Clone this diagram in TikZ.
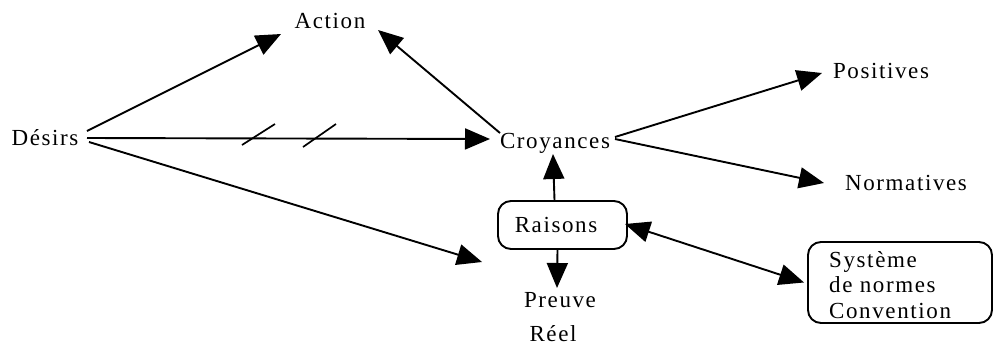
\documentclass[tikz,border=0pt]{standalone}
\usepackage{fontspec}
\setmainfont{Liberation Serif}[LetterSpace=7]
\usetikzlibrary{arrows.meta}
\begin{document}
\begin{tikzpicture}[x=1pt,y=-1pt,
  lbl/.style={inner sep=0pt,font=\fontsize{23}{25}\selectfont},
  rbox/.style={draw,line width=1.9pt,rounded corners=13pt,inner sep=0pt},
  arr/.style={line width=1.9pt,-{Triangle[length=25pt,width=21pt]}},
  darr/.style={line width=1.9pt,{Triangle[length=25pt,width=21pt]}-{Triangle[length=25pt,width=21pt]}},
  tick/.style={line width=1.7pt}]
\useasboundingbox (0,0) rectangle (997,349);

% concepts
\node[lbl] (action) at (330,21) {Action};
\node[lbl] (desirs) at (45,138) {Désirs};
\node[lbl] (croy) at (555,143) {Croyances};
\node[lbl] (pos) at (881,71) {Positives};
\node[lbl] (norm) at (906,183) {Normatives};
\node[rbox,minimum width=129pt,minimum height=48pt] (raisons) at (562.5,225) {};
\node[lbl] (raisonstxt) at (556,225) {Raisons};
\node[lbl] (preuve) at (560,300) {Preuve};
\node[lbl] (reel) at (553,334) {Réel};
\node[rbox,minimum width=184pt,minimum height=81pt] (sys) at (900,282.5) {};
\node[lbl,align=left,anchor=north west,font=\fontsize{23}{25.5}\selectfont] (systxt) at (829,251)
  {Système\\de normes\\Convention};

% connectors
\draw[arr] ([shift={(42,-7)}]desirs.center) -- ([shift={(-49,13)}]action.center);
\draw[arr] ([shift={(-55,-10)}]croy.center) -- ([shift={(48,9)}]action.center);
\draw[arr] ([shift={(42,0)}]desirs.center) -- ([shift={(-65,-4)}]croy.center);
\draw[arr] ([shift={(44,4)}]desirs.center) -- ([shift={(-15,37)}]raisons.west);
\draw[arr] ([shift={(60,-6)}]croy.center) -- ([shift={(-59,2)}]pos.center);
\draw[arr] ([shift={(60,-4)}]croy.center) -- ([shift={(-82,0)}]norm.center);
\draw[arr] ([xshift=-8pt]raisons.north) -- ([shift={(-2,11)}]croy.center);
\draw[arr] ([xshift=-5pt]raisons.south) -- ([shift={(-3,-12)}]preuve.center);
\draw[darr] ([shift={(-3,-1)}]raisons.east) -- ([shift={(-3,0)}]sys.west);

% the two strokes across the Désirs -> Croyances link
\draw[tick] (242,145) -- (275,124);
\draw[tick] (303,147) -- (336,124);
\end{tikzpicture}
\end{document}
